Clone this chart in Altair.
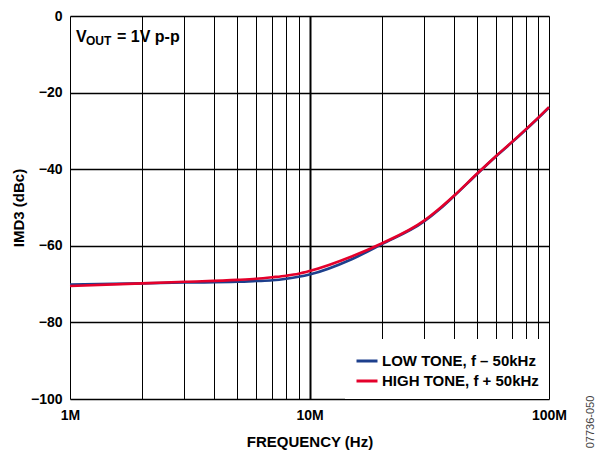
import altair as alt
import pandas as pd

# Frequencies in Hz
freq_low = [1e6, 2e6, 3e6, 5e6, 6e6, 7e6, 8e6, 9e6, 10e6, 15e6, 20e6, 30e6, 35e6, 40e6, 50e6, 60e6, 70e6, 80e6, 90e6, 100e6]
imd_low = [-70.1, -69.8, -69.6, -69.4, -69.2, -69.0, -68.6, -68.1, -67.5, -63.5, -59.6, -53.7, -50.4, -47.1, -41.3, -36.7, -33.0, -29.7, -26.7, -23.9]

freq_high = [1e6, 2e6, 3e6, 5e6, 6e6, 7e6, 8e6, 9e6, 10e6, 15e6, 20e6, 30e6, 35e6, 40e6, 50e6, 60e6, 70e6, 80e6, 90e6, 100e6]
imd_high = [-70.5, -69.8, -69.4, -68.9, -68.6, -68.2, -67.8, -67.3, -66.6, -62.8, -59.4, -53.5, -50.2, -47.0, -41.2, -36.6, -32.9, -29.6, -26.6, -23.8]

series_names = ["LOW TONE, f – 50kHz", "HIGH TONE, f + 50kHz"]
series_colors = ["#1d3f8c", "#e4002b"]

x_grid = [1e6, 2e6, 3e6, 4e6, 5e6, 6e6, 7e6, 8e6, 9e6,
          1e7, 2e7, 3e7, 4e7, 5e7, 6e7, 7e7, 8e7, 9e7, 1e8]
y_ticks = [0, -20, -40, -60, -80, -100]

FONT = "Liberation Sans"

df = pd.concat([
    pd.DataFrame({"freq": freq_low, "imd": imd_low, "series": series_names[0], "ord": 0}),
    pd.DataFrame({"freq": freq_high, "imd": imd_high, "series": series_names[1], "ord": 1}),
], ignore_index=True)

lines = alt.Chart(df).mark_line(strokeWidth=2.6, interpolate="monotone").encode(
    x=alt.X("freq:Q",
            scale=alt.Scale(type="log", domain=[1e6, 1e8], nice=False),
            axis=alt.Axis(values=x_grid,
                          labelExpr="datum.value == 1000000 ? '1M' : datum.value == 10000000 ? '10M' : datum.value == 100000000 ? '100M' : ''",
                          title="FREQUENCY (Hz)", grid=True, gridColor="#000000",
                          gridWidth={"condition": {"test": "datum.value == 10000000", "value": 2}, "value": 1},
                          gridOpacity=1, ticks=False, domain=False, labelPadding=9,
                          labelFont=FONT, labelFontSize=14, labelFontWeight="bold", labelColor="#000",
                          titleFont=FONT, titleFontSize=15, titleFontWeight="bold", titleColor="#000",
                          titlePadding=12, labelFlush=False, labelOverlap=False)),
    y=alt.Y("imd:Q",
            scale=alt.Scale(domain=[-100, 0], nice=False),
            axis=alt.Axis(values=y_ticks,
                          labelExpr="datum.value == 0 ? '0' : '\u2212' + abs(datum.value)",
                          title="IMD3 (dBc)", grid=True, gridColor="#000000", gridWidth=1.3, gridOpacity=1,
                          ticks=False, domain=False, labelPadding=8,
                          labelFont=FONT, labelFontSize=14, labelFontWeight="bold", labelColor="#000",
                          titleFont=FONT, titleFontSize=15, titleFontWeight="bold", titleColor="#000",
                          titlePadding=4, labelFlush=False)),
    color=alt.Color("series:N",
                    scale=alt.Scale(domain=series_names, range=series_colors),
                    sort=series_names,
                    legend=alt.Legend(title=None, orient="bottom-right", offset=0,
                                      fillColor="white", padding=10,
                                      symbolType="stroke", symbolSize=441, symbolStrokeWidth=3,
                                      labelFont=FONT, labelFontSize=15, labelFontWeight="bold",
                                      labelColor="#000", labelOffset=3, rowPadding=0,
                                      labelLimit=300)),
    order=alt.Order("ord:Q"),
)

base = alt.Chart(pd.DataFrame({"a": [0]}))
t_v = base.mark_text(text="V", font=FONT, fontSize=16, fontWeight="bold", align="left",
                     baseline="alphabetic", color="#000").encode(x=alt.value(6), y=alt.value(26))
t_out = base.mark_text(text="OUT", font=FONT, fontSize=12, fontWeight="bold", align="left",
                       baseline="alphabetic", color="#000").encode(x=alt.value(16), y=alt.value(29))
t_eq = base.mark_text(text="= 1V p-p", font=FONT, fontSize=16, fontWeight="bold", align="left",
                      baseline="alphabetic", color="#000").encode(x=alt.value(47), y=alt.value(26))
t_code = base.mark_text(text="07736-050", font=FONT, fontSize=11, angle=270, align="center",
                        baseline="middle", color="#444").encode(x=alt.value(521), y=alt.value(406))

chart = alt.layer(lines, t_v, t_out, t_eq, t_code).properties(
    width=479, height=383,
    autosize=alt.AutoSizeParams(type="none"),
    padding={"left": 62, "top": 8, "right": 48, "bottom": 53},
).configure_view(stroke="#000", strokeWidth=2).configure(background="white")

chart.save("out.html", embed_options={"renderer": "svg", "actions": False})
